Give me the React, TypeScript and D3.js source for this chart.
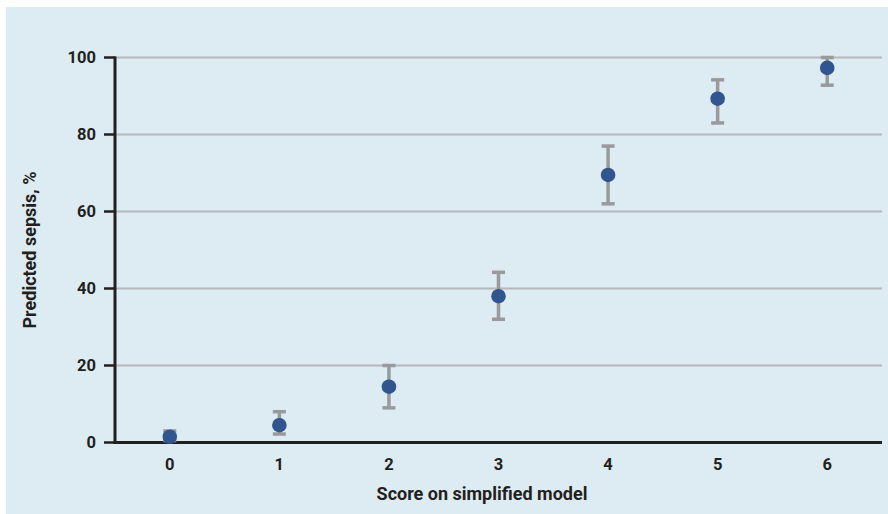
import React from "react";
import * as d3 from "d3";

const scores = [0, 1, 2, 3, 4, 5, 6];
const predicted = [1.5, 4.5, 14.5, 38, 69.5, 89.3, 97.3];
const lower = [0.5, 2.2, 9, 32, 62, 83, 92.8];
const upper = [3, 8, 20, 44.2, 77, 94.2, 100];
const yTicks = [0, 20, 40, 60, 80, 100];

const W = 888;
const H = 514;
const M = { left: 115, right: 882, top: 57.5, bottom: 442.5 };
const FONT = "Roboto, 'DejaVu Sans', sans-serif";

export default function App() {
  const x = d3
    .scaleBand<number>()
    .domain(scores)
    .range([M.left, M.right])
    .padding(0);
  const y = d3.scaleLinear().domain([0, 100]).range([M.bottom, M.top]);
  const cx = (s: number) => (x(s) ?? 0) + x.bandwidth() / 2;
  const capW = 13;

  return (
    <svg
      width={W}
      height={H}
      style={{ position: "absolute", left: 0, top: 0 }}
      fontFamily={FONT}
    >
      <rect x={0} y={0} width={W} height={H} fill="#ffffff" />
      <rect x={6} y={7} width={W - 6} height={H - 7} fill="#ddebf2" />
      {yTicks
        .filter((t) => t > 0)
        .map((t) => (
          <line
            key={"g" + t}
            x1={M.left}
            x2={M.right}
            y1={y(t)}
            y2={y(t)}
            stroke="#b5b8bc"
            strokeWidth={2}
          />
        ))}
      {yTicks.map((t) => (
        <g key={"t" + t}>
          <line x1={104} x2={M.left} y1={y(t)} y2={y(t)} stroke="#231f20" strokeWidth={2.5} />
          <text
            x={96}
            y={y(t)}
            dy="0.35em"
            textAnchor="end"
            fontSize={16.5}
            fontWeight="bold"
            fill="#231f20"
          >
            {t}
          </text>
        </g>
      ))}
      <line x1={M.left} x2={M.left} y1={M.top - 1} y2={M.bottom + 1.5} stroke="#231f20" strokeWidth={3} />
      <line x1={M.left - 1.5} x2={M.right} y1={M.bottom} y2={M.bottom} stroke="#231f20" strokeWidth={3} />
      {scores.map((s) => (
        <text
          key={"x" + s}
          x={cx(s)}
          y={464}
          dy="0.35em"
          textAnchor="middle"
          fontSize={16.5}
          fontWeight="bold"
          fill="#231f20"
        >
          {s}
        </text>
      ))}
      <text
        x={482}
        y={494}
        dy="0.35em"
        textAnchor="middle"
        fontSize={18}
        fontWeight="bold"
        fill="#231f20"
      >
        Score on simplified model
      </text>
      <text
        transform={`translate(30,${(M.top + M.bottom) / 2}) rotate(-90)`}
        dy="0.35em"
        textAnchor="middle"
        fontSize={18}
        fontWeight="bold"
        fill="#231f20"
      >
        Predicted sepsis, %
      </text>
      {scores.map((s, i) => (
        <g key={"e" + s} stroke="#999a9c">
          <line x1={cx(s)} x2={cx(s)} y1={y(lower[i])} y2={y(upper[i])} strokeWidth={3.5} />
          <line x1={cx(s) - capW / 2} x2={cx(s) + capW / 2} y1={y(lower[i])} y2={y(lower[i])} strokeWidth={3.5} />
          <line x1={cx(s) - capW / 2} x2={cx(s) + capW / 2} y1={y(upper[i])} y2={y(upper[i])} strokeWidth={3.5} />
        </g>
      ))}
      {scores.map((s, i) => (
        <circle key={"p" + s} cx={cx(s)} cy={y(predicted[i])} r={7.3} fill="#30558f" />
      ))}
    </svg>
  );
}
